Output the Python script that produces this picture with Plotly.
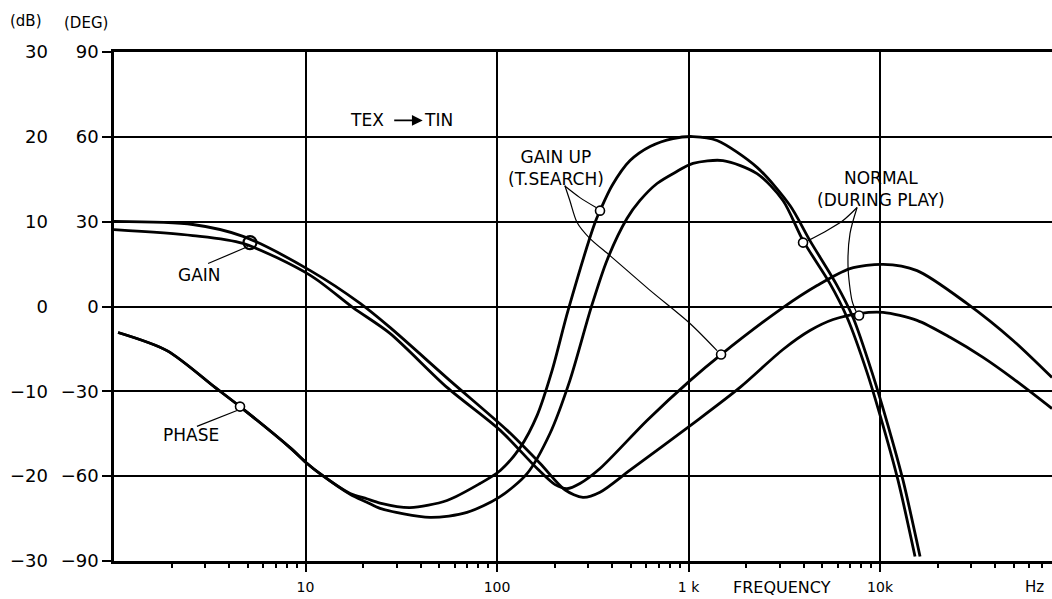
import numpy as np
import plotly.graph_objects as go

# ---------------- data (frequency in Hz, value on the DEG scale) ----------------
gain_up_freq = [1.0, 2.58, 4.72, 10.6, 17.7, 27.6, 54.8, 104, 162, 201, 232, 271, 345, 607,
                1018, 1479, 3113, 4690, 6970, 10370, 15600, 28400, 49500, 79100]
gain_up_deg = [27.2, 25.1, 22.3, 11.0, -0.4, -9.5, -28.6, -43.8, -57.3, -63.0, -64.4, -62.6,
               -57.3, -40.3, -26.2, -17.0, -0.4, 7.4, 13.4, 14.9, 12.7, 1.1, -12.0, -25.1]

gain_normal_freq = [1.0, 2.58, 4.72, 10.6, 19.3, 27.6, 56.8, 113, 168, 226, 281, 345, 495, 1055,
                    1858, 3113, 4305, 5690, 7770, 10370, 15600, 23200, 34500, 49500, 79100]
gain_normal_deg = [30.1, 29.0, 24.8, 12.7, 1.1, -7.4, -26.2, -43.8, -55.5, -64.8, -67.5, -65.7,
                   -57.9, -41.4, -28.6, -15.2, -8.5, -4.6, -2.5, -2.1, -4.9, -10.9, -18.0,
                   -25.5, -36.1]

phase_common_freq = [1.05, 1.89, 3.37, 4.55, 8.30, 10.2, 11.9]
phase_common_deg = [-9.2, -15.6, -28.6, -35.4, -49.9, -55.5, -59.1]

phase_up_freq = phase_common_freq + [17.1, 20.9, 24.5, 35.1, 54.8, 81.5, 104, 132, 162, 194, 235,
                                     325, 345, 399, 495, 630, 830, 1055, 1409, 2279, 3388, 4305,
                                     5890, 7230, 9080, 11010, 13190, 16180]
phase_up_deg = phase_common_deg + [-66.1, -68.0, -69.5, -71.1, -68.6, -62.6, -58.0, -49.9, -38.5,
                                   -22.6, -1.4, 29.7, 33.9, 42.8, 51.6, 56.6, 59.4, 60.1, 58.7,
                                   49.2, 35.7, 23.3, 8.1, -3.9, -23.3, -42.1, -61.5, -88.4]

phase_normal_freq = phase_common_freq + [17.1, 20.9, 24.5, 44.7, 69.7, 102.4, 143.5, 189, 240, 310,
                                         375, 477, 558, 685, 851, 1055, 1514, 2279, 3113, 3963,
                                         5480, 6730, 8550, 10370, 12420, 15230]
phase_normal_deg = phase_common_deg + [-66.4, -69.2, -71.4, -74.6, -72.8, -67.5, -59.1, -44.9,
                                       -26.2, -0.4, 16.3, 31.1, 37.5, 43.5, 47.4, 50.6, 51.6,
                                       47.0, 37.5, 23.3, 8.1, -3.9, -23.3, -42.1, -61.5, -88.4]

# marker circles on the curves
circle_freq = [4.55, 345, 1479, 3963, 7770]
circle_deg = [-35.4, 33.9, -17.0, 22.6, -3.2]
gain_circle_freq = [5.13]
gain_circle_deg = [22.6]

deg_ticks = [-90, -60, -30, 0, 30, 60, 90]
db_ticks = [-30, -20, -10, 0, 10, 20, 30]
freq_ticks = [10, 100, 1000, 10000]
freq_ticktext = ["10", "100", "1 k", "10k"]
minor_freq_ticks = [m * 10 ** e for e in range(0, 5) for m in range(2, 10)]

# leader lines (freq, deg) from labels to circles
leaders = [
    ([3.10, 5.01], [15.2, 21.2]),
    ([2.71, 4.39], [-42.4, -36.8]),
    ([226, 271, 329], [42.6, 38.5, 35.0]),
    ([226, 240, 262, 306, 389, 630, 1018, 1409], [42.8, 37.5, 29.7, 24.0, 18.0, 5.7, -6.0, -15.6]),
    ([7590, 6410, 5290, 4210], [35.0, 30.4, 26.9, 23.3]),
    ([7590, 6970, 6810, 7140, 7500], [35.0, 25.8, 13.8, 2.1, -1.8]),
]

FONT = "DejaVu Sans"
fig = go.Figure()

for f, d in [(gain_up_freq, gain_up_deg), (gain_normal_freq, gain_normal_deg),
             (phase_up_freq, phase_up_deg), (phase_normal_freq, phase_normal_deg)]:
    fig.add_trace(go.Scatter(x=f, y=d, mode="lines",
                             line=dict(color="black", width=2.8, shape="spline", smoothing=0.8),
                             showlegend=False, hoverinfo="skip"))

for f, d in leaders:
    fig.add_trace(go.Scatter(x=f, y=d, mode="lines",
                             line=dict(color="black", width=1.2, shape="spline", smoothing=0.8),
                             showlegend=False, hoverinfo="skip"))

fig.add_trace(go.Scatter(x=circle_freq, y=circle_deg, mode="markers",
                         marker=dict(symbol="circle", size=9, color="white",
                                     line=dict(color="black", width=1.6)),
                         showlegend=False, hoverinfo="skip"))
fig.add_trace(go.Scatter(x=gain_circle_freq, y=gain_circle_deg, mode="markers",
                         marker=dict(symbol="circle", size=13, color="rgba(255,255,255,0)",
                                     line=dict(color="black", width=2.2)),
                         showlegend=False, hoverinfo="skip"))

# invisible trace for the dB axis
fig.add_trace(go.Scatter(x=[None], y=[None], yaxis="y2", showlegend=False, hoverinfo="skip"))

fig.update_layout(
    width=1052, height=599,
    margin=dict(l=114, r=0, t=52, b=38),
    paper_bgcolor="white", plot_bgcolor="white",
    font=dict(family=FONT, color="black"),
    xaxis=dict(type="log", range=[0, 4.898], showline=True, mirror=True, linecolor="black",
               linewidth=2.5, showgrid=True, gridcolor="black", gridwidth=1.5,
               tickmode="array", tickvals=freq_ticks, ticktext=freq_ticktext,
               ticks="outside", ticklen=8, tickwidth=2, tickcolor="black",
               ticklabelstandoff=3,
               tickfont=dict(size=14, family=FONT),
               minor=dict(tickmode="array", tickvals=minor_freq_ticks, ticks="outside",
                          ticklen=4, tickwidth=1.5, tickcolor="black", showgrid=False),
               zeroline=False),
    yaxis=dict(range=[-90, 90], tickmode="array", tickvals=deg_ticks, showline=True,
               linecolor="black", linewidth=2.5, showgrid=True, gridcolor="black", gridwidth=2,
               ticks="outside", ticklen=9, tickwidth=2, tickcolor="black",
               tickfont=dict(size=18, family=FONT), zeroline=False),
    yaxis2=dict(range=[-30, 30], tickmode="array", tickvals=db_ticks, overlaying="y",
                side="left", anchor="free", position=0, showgrid=False, showline=False,
                ticks="", ticklabelstandoff=66, tickfont=dict(size=18, family=FONT),
                zeroline=False),
)

annots = [
    dict(text="(dB)", x=26, y=21, size=15),
    dict(text="(DEG)", x=86, y=23, size=15),
    dict(text="FREQUENCY", x=782, y=587, size=16),
    dict(text="Hz", x=1034, y=587, size=15),
]
for a in annots:
    fig.add_annotation(text=a["text"], xref="paper", yref="paper",
                       x=(a["x"] - 114) / 938, y=(599 - 38 - a["y"]) / 509,
                       showarrow=False, xanchor="center", yanchor="middle",
                       font=dict(size=a["size"], family=FONT, color="black"))

lab = dict(size=17, family=FONT, color="black")
labels = [
    ("GAIN", 0.444, 11.3),
    ("PHASE", 0.402, -45.6),
    ("GAIN UP<br>(T.SEARCH)", 2.31, 49.0),
    ("NORMAL<br>(DURING PLAY)", 4.007, 41.6),
    ("TEX", 1.321, 65.8),
    ("TIN", 1.697, 65.8),
]
for t, x, y in labels:
    fig.add_annotation(text=t, x=x, y=y, xref="x", yref="y", showarrow=False,
                       xanchor="center", yanchor="middle", font=lab)

fig.add_annotation(text="", x=1.612, y=65.8, xref="x", yref="y", ax=-30, ay=0,
                   showarrow=True, arrowhead=2, arrowsize=1.2, arrowwidth=1.8,
                   arrowcolor="black")

fig.write_html("out.html", config={"displayModeBar": False},
               post_script="document.body.style.margin='0';")
